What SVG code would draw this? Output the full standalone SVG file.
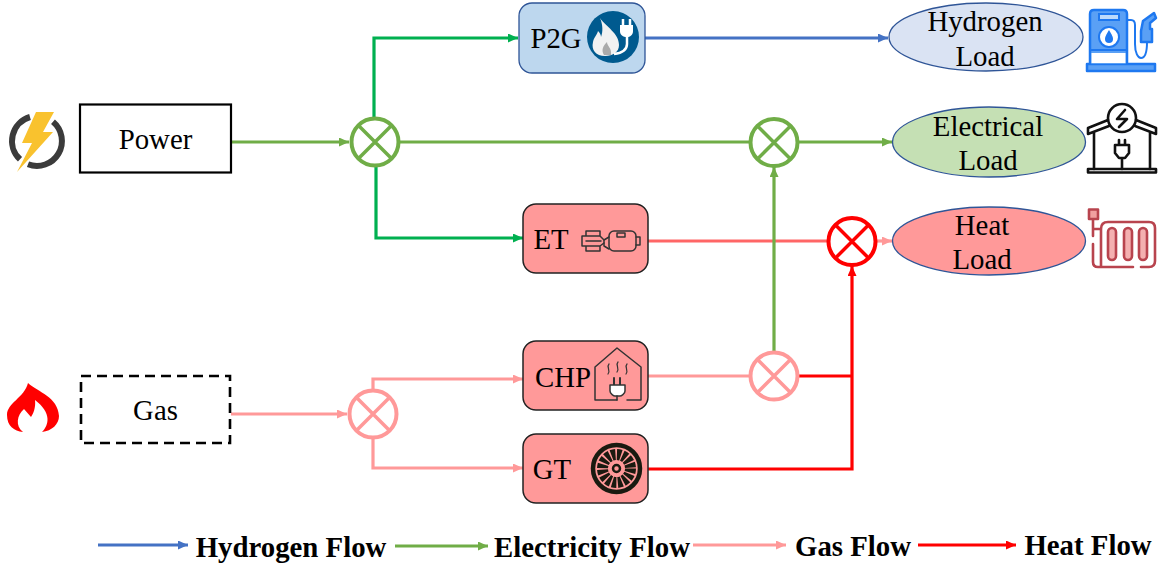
<svg xmlns="http://www.w3.org/2000/svg" width="1162" height="567" viewBox="0 0 1162 567">
<style>
text{font-family:"Liberation Serif","Times New Roman",serif;font-size:28.800px;fill:#000;text-anchor:middle}
.lg{font-weight:bold}
.c{fill:none;stroke-width:3.200}
.bl{stroke:#4472C4}.gn{stroke:#70AD47}.dg{stroke:#00B050}.pk{stroke:#FF9999}.rd{stroke:#FF0000}.sr{stroke:#FF6666}
.j{fill:#fff;stroke-width:4}
.jx{fill:none;stroke-width:3.500}
.box{stroke:#222;stroke-width:1.500;fill:#FF9999}
.el{stroke:#2F5597;stroke-width:1.300}
.ic{fill:none;stroke:#333;stroke-width:1.500;stroke-linejoin:round;stroke-linecap:round}
.pump{stroke:#1E78F0;stroke-width:2.500;fill:#5AA0F5;stroke-linejoin:round}
.hs{fill:none;stroke:#111;stroke-width:2.600;stroke-linejoin:round;stroke-linecap:round}
.rad{fill:none;stroke:#B8444E;stroke-width:2.600;stroke-linecap:round;stroke-linejoin:round}
</style>
<defs>
<marker id="ab" markerWidth="11" markerHeight="10" refX="10" refY="4.500" orient="auto" markerUnits="userSpaceOnUse"><path d="M0 0L10 4.500L0 9Z" fill="#4472C4"/></marker>
<marker id="ag" markerWidth="11" markerHeight="10" refX="10" refY="4.500" orient="auto" markerUnits="userSpaceOnUse"><path d="M0 0L10 4.500L0 9Z" fill="#70AD47"/></marker>
<marker id="ad" markerWidth="11" markerHeight="10" refX="10" refY="4.500" orient="auto" markerUnits="userSpaceOnUse"><path d="M0 0L10 4.500L0 9Z" fill="#00B050"/></marker>
<marker id="ap" markerWidth="11" markerHeight="10" refX="10" refY="4.500" orient="auto" markerUnits="userSpaceOnUse"><path d="M0 0L10 4.500L0 9Z" fill="#FF9999"/></marker>
<marker id="ar" markerWidth="11" markerHeight="10" refX="10" refY="4.500" orient="auto" markerUnits="userSpaceOnUse"><path d="M0 0L10 4.500L0 9Z" fill="#FF0000"/></marker>
</defs>
<g id="connectors">
<path class="c gn" d="M231 142H349" marker-end="url(#ag)"/>
<path class="c dg" d="M374 118V38H518" marker-end="url(#ad)"/>
<path class="c dg" d="M376 166V238H523" marker-end="url(#ad)"/>
<path class="c gn" d="M399 142H750"/>
<path class="c gn" d="M798 142H892" marker-end="url(#ag)"/>
<path class="c bl" d="M645 38H888" marker-end="url(#ab)"/>
<path class="c sr" d="M648 241H828"/>
<path class="c pk" d="M876 241H892" marker-end="url(#ap)"/>
<path class="c gn" d="M774 352V167" marker-end="url(#ag)"/>
<path class="c pk" d="M231 414H347" marker-end="url(#ap)"/>
<path class="c pk" d="M373 390V379H523" marker-end="url(#ap)"/>
<path class="c pk" d="M373 438V468H523" marker-end="url(#ap)"/>
<path class="c pk" d="M648 376H750"/>
<path class="c rd" d="M798 376H852"/>
<path class="c rd" d="M648 469H852V266" marker-end="url(#ar)"/>
<path class="c bl" d="M98 545H188" marker-end="url(#ab)"/>
<path class="c gn" d="M395 546H488" marker-end="url(#ag)"/>
<path class="c pk" d="M693 545H786" marker-end="url(#ap)"/>
<path class="c rd" d="M918 545H1016" marker-end="url(#ar)"/>
</g>
<g id="j-power"><circle class="j gn" cx="375" cy="142" r="23.500"/><path class="jx gn" d="M358 125L392 159M392 125L358 159"/></g>
<g id="j-elec"><circle class="j gn" cx="774" cy="142.500" r="23.500"/><path class="jx gn" d="M757 125.500L791 159.500M791 125.500L757 159.500"/></g>
<g id="j-heat"><circle class="j rd" cx="852" cy="241.500" r="23.500"/><path class="jx rd" d="M835 224.500L869 258.500M869 224.500L835 258.500"/></g>
<g id="j-gas"><circle class="j pk" cx="373" cy="414" r="23.500"/><path class="jx pk" d="M356 397L390 431M390 397L356 431"/></g>
<g id="j-chp"><circle class="j pk" cx="774" cy="376" r="23.500"/><path class="jx pk" d="M757 359L791 393M791 359L757 393"/></g>
<g id="power"><rect x="80" y="104.500" width="151" height="68" fill="#fff" stroke="#000" stroke-width="2.200"/><text x="155.500" y="149">Power</text>
<path d="M30 117A25 25 0 0 0 20 159.300M28 164.300A25 25 0 0 0 53 121.800" fill="none" stroke="#3b3b3b" stroke-width="6"/>
<path d="M36 112H54L43 132H53L17 172L32 143H22Z" fill="#F9C22E"/></g>
<g id="gas"><rect x="81" y="376" width="149" height="67" fill="#fff" stroke="#000" stroke-width="2.600" stroke-dasharray="10 6"/><text x="155.500" y="420">Gas</text>
<path d="M28 383C38 392 58 397 59 416C59 424 52 431 42 432C49 425 52 413 35 400C36 408 33 414 31 417L24 409C17 415 15 426 23 432C14 431 7 426 7 415C7 403 24 398 28 383Z" fill="#FF0000"/></g>
<g id="p2g"><rect x="519" y="3" width="126" height="70" rx="13" fill="#BDD7EE" stroke="#2F5597" stroke-width="1.300"/><text x="556" y="48">P2G</text>
<circle cx="613" cy="37" r="26" fill="#005A8F"/>
<path d="M600 18C606 27 619 33 619 45C619 52 613 56 605 56C596 56 591 50 593 42C594 37 597 35 598 31C600 33 601 35 601 37C603 32 603 25 600 18Z" fill="#f2f2f2"/>
<path d="M604 55C601 50 603 46 607 42C607 46 612 48 611 55Z" fill="#aaa"/>
<path d="M627 36V44C627 50 622 53 614 54" fill="none" stroke="#fff" stroke-width="2.500"/>
<path d="M620 25H633V31C633 35 630 37 627 37C623 37 620 35 620 31Z" fill="#fff"/>
<path d="M623 19V25M630 19V25" stroke="#fff" stroke-width="2.500"/></g>
<g id="et"><rect class="box" x="523" y="204" width="125" height="69" rx="13"/><text x="551" y="249">ET</text>
<g class="ic"><rect x="609" y="231" width="27" height="20" rx="5"/><rect x="617" y="233" width="8" height="4"/><path d="M636 237H640V245H636M609 237L604 240V246L609 249"/><path d="M586 236V231H600V236M582 236H600M582 246H600M582 236V246M586 246V251H600V246M586 241H601M600 236L604 240M600 246L604 243"/></g></g>
<g id="chp"><rect class="box" x="523" y="341" width="125" height="69" rx="13"/><text x="563" y="387">CHP</text>
<g class="ic" stroke="#222"><path d="M617 400H595V367L617 348L641 367V400H627"/><path d="M609 364C606 367 611 370 608 374M618 362C615 365 620 368 617 372M627 364C624 367 629 370 626 374" stroke-width="1.200"/><path d="M614 378V385M620 378V385" stroke-width="2"/><path d="M610 385H625V391C625 394 621 396 620 396H615C614 396 610 394 610 391Z" fill="#fff"/><path d="M617 396V400"/></g></g>
<g id="gt"><rect class="box" x="523" y="434" width="125" height="69" rx="13"/><text x="552" y="479">GT</text>
<circle cx="616.500" cy="468.500" r="23.500" fill="none" stroke="#1a1a10" stroke-width="4.500"/>
<circle cx="616.500" cy="468.500" r="14" fill="none" stroke="#1a1a10" stroke-width="11" stroke-dasharray="4 1.500"/>
<circle cx="616.500" cy="468.500" r="3.500" fill="none" stroke="#1a1a10" stroke-width="2.500"/></g>
<g id="hydrogen-load"><ellipse class="el" cx="986" cy="37" rx="97" ry="34" fill="#DAE3F3"/><text x="985" y="31">Hydrogen</text><text x="985" y="66">Load</text>
<rect class="pump" x="1087" y="64" width="68" height="7"/>
<path class="pump" d="M1090 64V14Q1090 10 1094 10H1123Q1127 10 1127 14V64"/>
<rect x="1091.500" y="53" width="34" height="10" fill="#fff"/>
<path d="M1090 50H1127" stroke="#1E78F0" stroke-width="2"/>
<rect x="1099" y="14" width="20" height="6" fill="#BBD9FC" stroke="#1E78F0" stroke-width="2"/>
<circle cx="1109" cy="37" r="10" fill="#fff" stroke="#1E78F0" stroke-width="2"/>
<path d="M1109 30C1106 35 1105 37 1105 39A4 4 0 0 0 1113 39C1113 37 1112 35 1109 30Z" fill="#1E78F0"/>
<path d="M1127 20H1131Q1135 20 1135 25V44C1135 53 1138 58 1141 58C1145 58 1147 52 1147 42" fill="none" stroke="#1E78F0" stroke-width="2"/>
<path class="pump" stroke-width="2" d="M1141 31L1143 21L1154 13L1156 18L1150 23L1150 29H1152V42H1141Z"/></g>
<g id="electrical-load"><ellipse class="el" cx="989" cy="142" rx="96.500" ry="35" fill="#C5E0B4"/><text x="988" y="136">Electrical</text><text x="988" y="170">Load</text>
<g class="hs">
<circle cx="1122" cy="118" r="14"/>
<path d="M1108 120L1088 128V134L1109 126M1136 120L1156 128V134L1135 126M1094 132V169M1150 132V169"/>
<rect x="1088" y="169" width="68" height="3.500"/>
<path d="M1119 140V145M1125 140V145M1115 145H1129V153L1125 158H1119L1115 153ZM1122 158V169"/>
<path d="M1125 110L1117 119H1127L1119 127"/></g></g>
<g id="heat-load"><ellipse class="el" cx="989" cy="241" rx="96.500" ry="34" fill="#FF9999"/><text x="982" y="235">Heat</text><text x="982" y="269">Load</text>
<g class="rad">
<rect x="1089" y="209.500" width="9" height="9.500" fill="#F0A0A0"/>
<path d="M1093 220V236M1093 244V262Q1093 267 1098 267H1133M1093 229H1101M1101 267V229Q1101 222 1108 222H1149Q1155 222 1155 228V261Q1155 267 1149 267H1141"/>
<rect x="1108" y="228" width="8" height="32" rx="4" fill="#F4B0B0"/><rect x="1124" y="228" width="8" height="32" rx="4" fill="#F4B0B0"/><rect x="1139" y="228" width="8" height="32" rx="4" fill="#F4B0B0"/></g></g>
<g id="legend"><text class="lg" x="291" y="557">Hydrogen Flow</text><text class="lg" x="592" y="557">Electricity Flow</text><text class="lg" x="853" y="556">Gas Flow</text><text class="lg" x="1088" y="555">Heat Flow</text></g>
</svg>
